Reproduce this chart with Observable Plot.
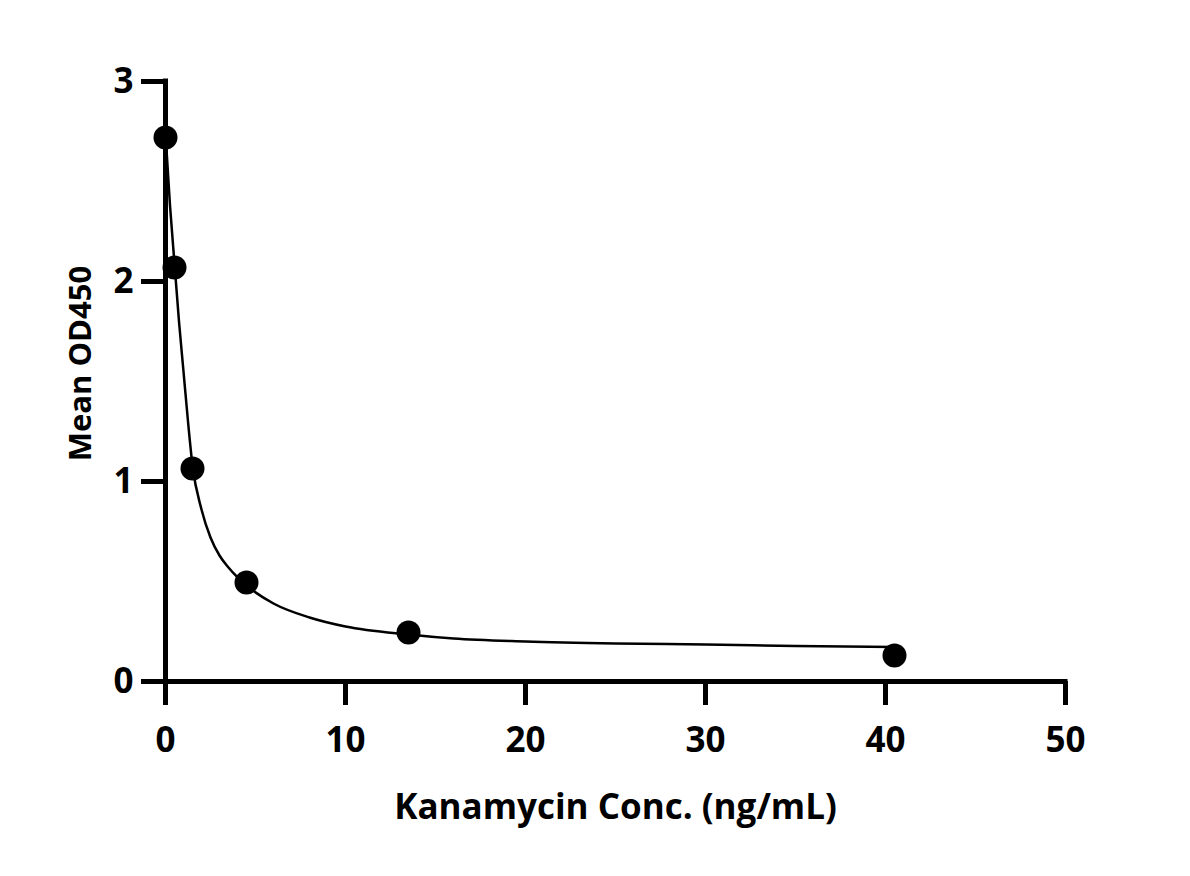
<!DOCTYPE html>
<html>
<head>
<meta charset="utf-8">
<script src="https://cdn.jsdelivr.net/npm/d3@7"></script>
<script src="https://cdn.jsdelivr.net/npm/@observablehq/plot@0.6"></script>
<style>
  html, body { margin: 0; padding: 0; background: #fff; }
  #chart svg { display: block; }
</style>
</head>
<body>
<div id="chart"></div>
<script>
// Measured points (concentration in ng/mL, mean OD450)
const conc = [0, 0.5, 1.5, 4.5, 13.5, 40.5];
const od = [2.72, 2.07, 1.065, 0.495, 0.245, 0.13];

// Fitted curve
const curveX = [0, 0.25, 0.5, 0.75, 1, 1.25, 1.5, 2, 2.5, 3, 3.5, 4.5, 6, 8, 10, 13.5, 16, 20, 25, 30, 35, 40.5];
const curveY = [2.74, 2.38, 2.09, 1.80, 1.55, 1.30, 1.08, 0.86, 0.72, 0.63, 0.57, 0.48, 0.39, 0.32, 0.275, 0.235, 0.215, 0.20, 0.19, 0.185, 0.178, 0.172];

const xTicks = [0, 10, 20, 30, 40, 50];
const yTicks = [0, 1, 2, 3];
const xTitle = "Kanamycin Conc. (ng/mL)";
const yTitle = "Mean OD450";

const points = conc.map((c, i) => ({x: c, y: od[i]}));
const curve = curveX.map((c, i) => ({x: c, y: curveY[i]}));

const font = "'Open Sans', Lato, sans-serif";

const chart = Plot.plot({
  width: 1190,
  height: 876,
  marginLeft: 165,
  marginRight: 125,
  marginTop: 81,
  marginBottom: 195,
  style: {fontFamily: font, fontWeight: "bold", fontSize: "35px", color: "#000", background: "#fff"},
  x: {domain: [0, 50], ticks: xTicks},
  y: {domain: [0, 3], ticks: yTicks},
  marks: [
    Plot.axisX({ticks: xTicks, tickSize: 24, strokeWidth: 5, tickPadding: 22, fontSize: 35, fontWeight: "bold", tickFormat: d3.format("d"), label: null}),
    Plot.axisY({ticks: yTicks, tickSize: 24, strokeWidth: 5, tickPadding: 8, fontSize: 35, fontWeight: "bold", tickFormat: d3.format("d"), label: null}),
    Plot.ruleY([0], {x1: 0, x2: 50, strokeWidth: 5, stroke: "#000", strokeLinecap: "square"}),
    Plot.ruleX([0], {y1: 0, y2: 3, strokeWidth: 5, stroke: "#000", strokeLinecap: "square"}),
    Plot.text([xTitle], {frameAnchor: "bottom", dy: 126, text: d => d, fontSize: 35, fontWeight: "bold", lineAnchor: "middle", fill: "#000"}),
    Plot.text([yTitle], {frameAnchor: "left", dx: -84, dy: -18, rotate: -90, text: d => d, fontSize: 31, fontWeight: "bold", lineAnchor: "middle", textAnchor: "middle", fill: "#000"}),
    Plot.line(curve, {x: "x", y: "y", curve: "monotone-x", stroke: "#000", strokeWidth: 2.5}),
    Plot.dot(points, {x: "x", y: "y", r: 12, fill: "#000", stroke: "none"})
  ]
});
document.getElementById("chart").appendChild(chart);
</script>
</body>
</html>
